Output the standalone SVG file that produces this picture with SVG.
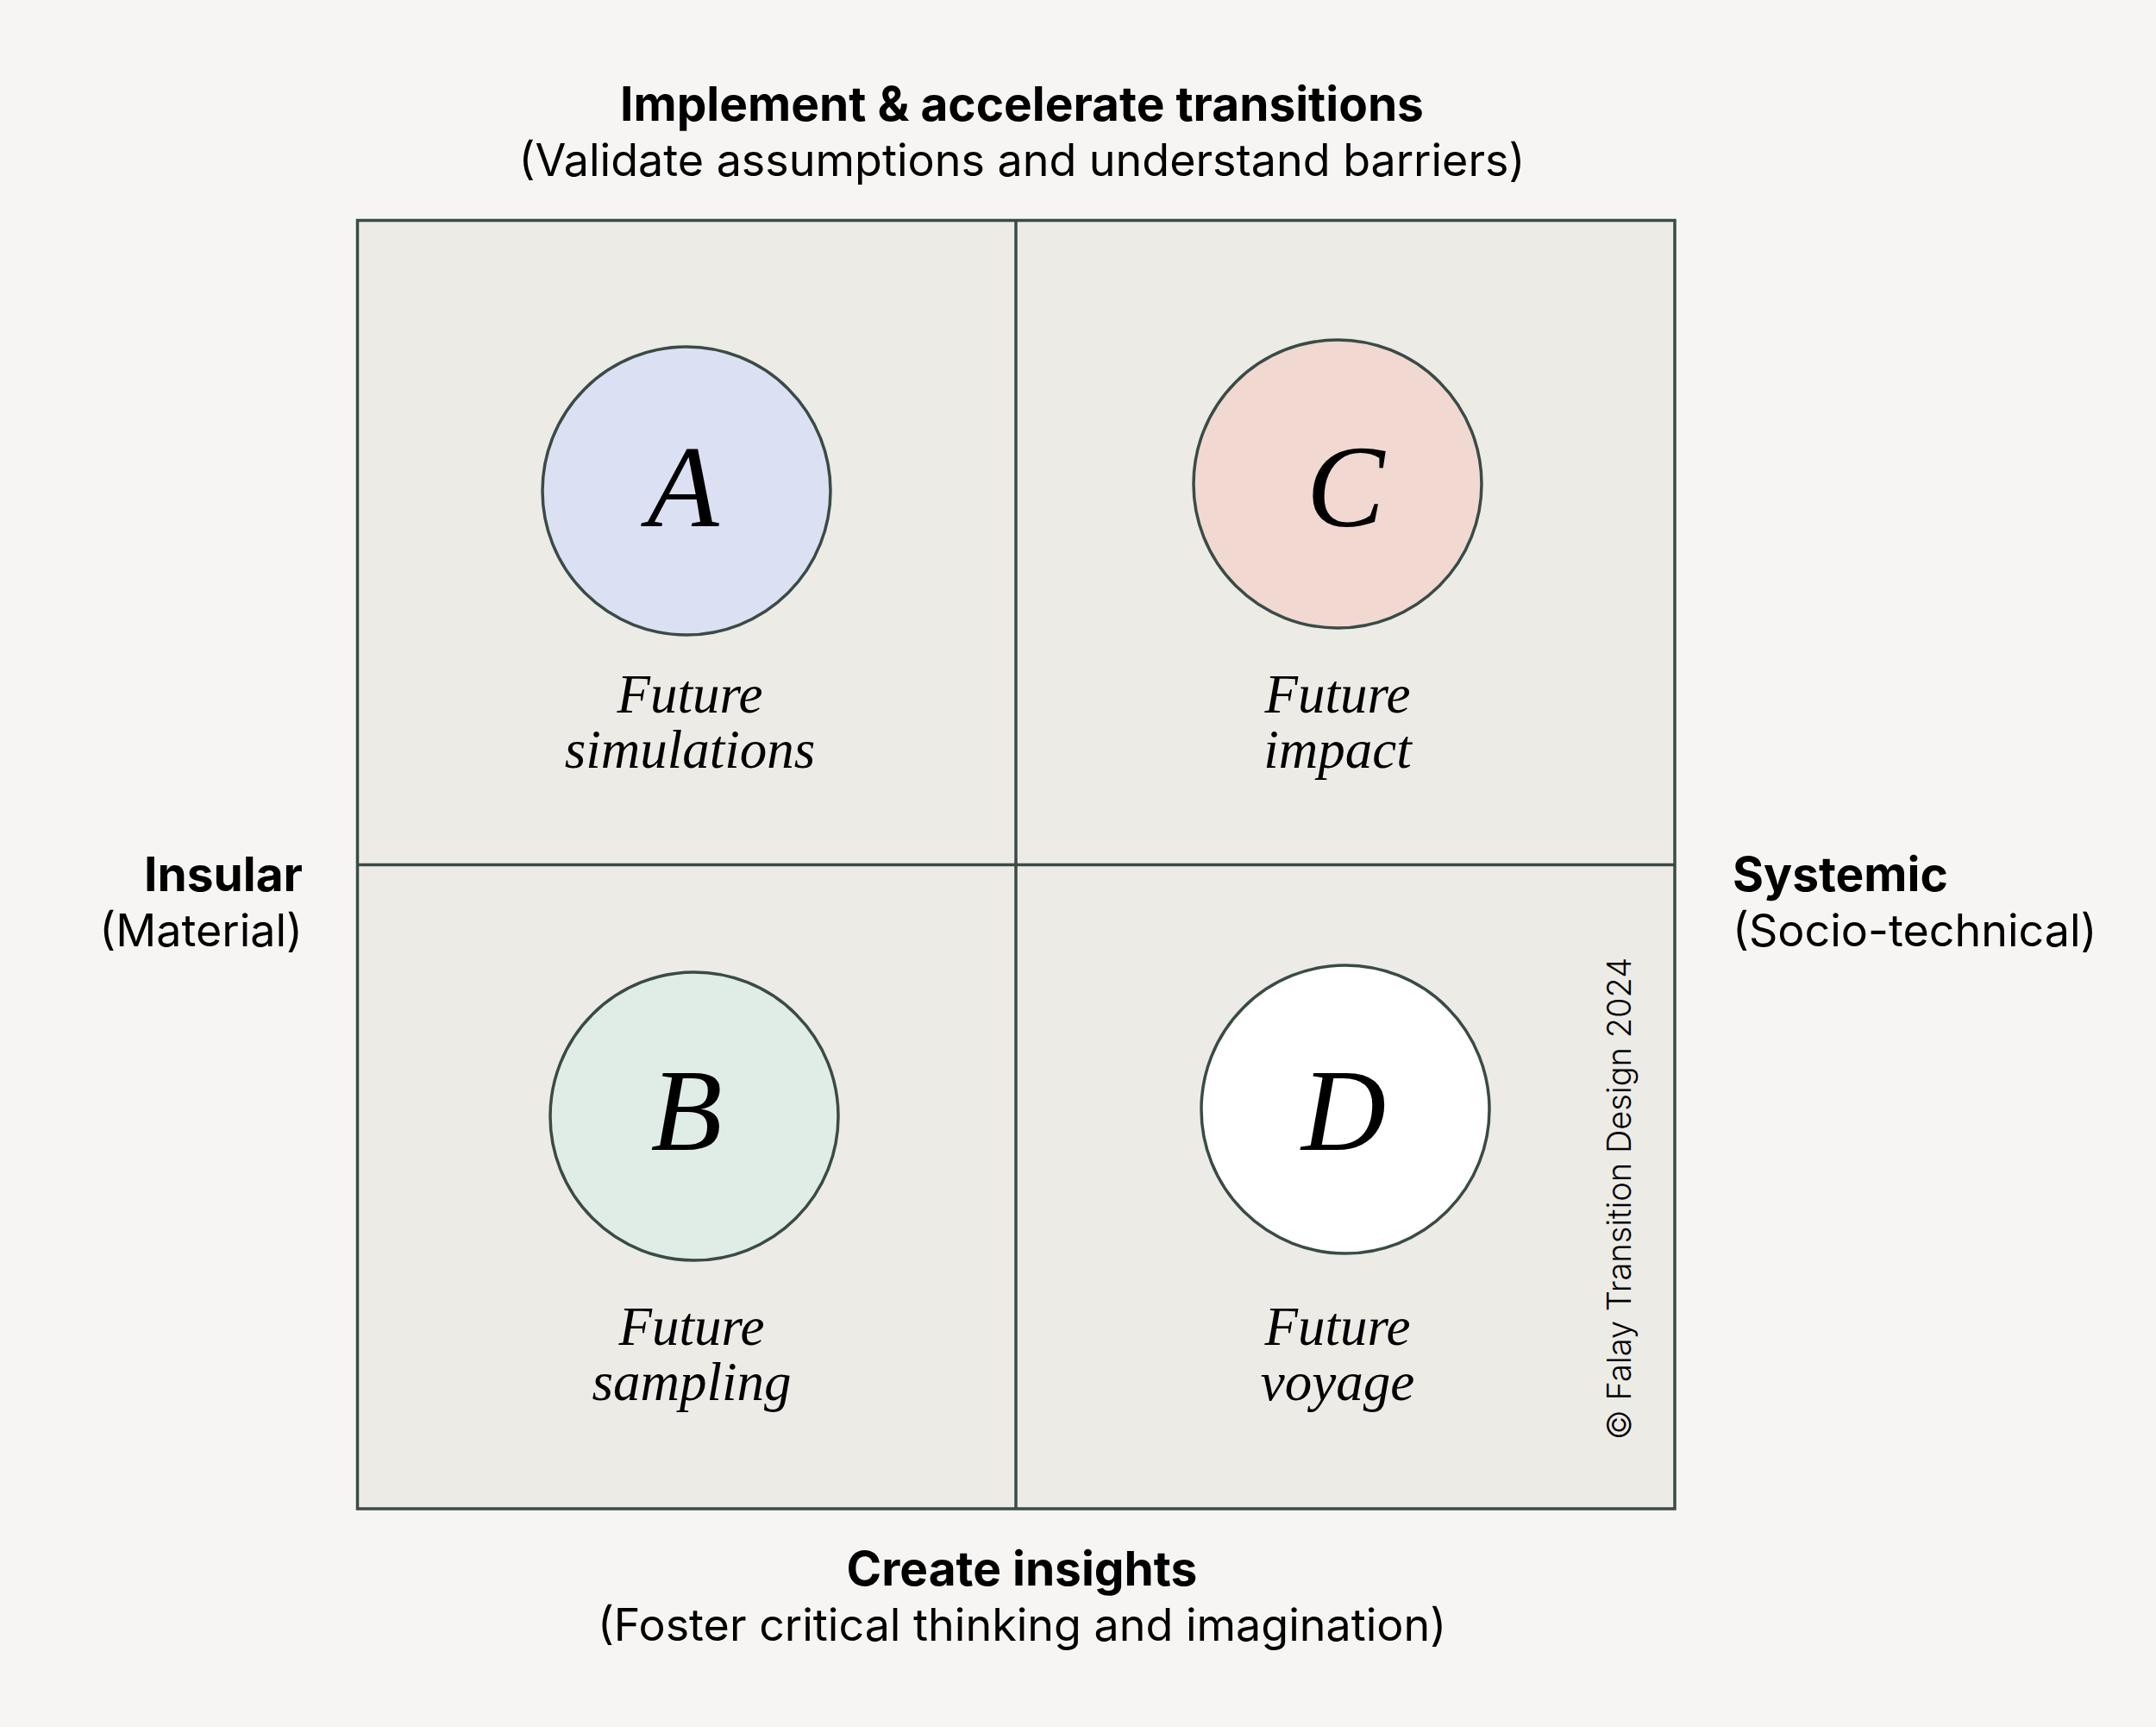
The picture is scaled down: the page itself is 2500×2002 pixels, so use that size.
<svg xmlns="http://www.w3.org/2000/svg" width="2500" height="2002" viewBox="0 0 2500 2002">
<style>
.bg{fill:#f6f5f3}
.quad{fill:#ecebe6;stroke:#3a4b46;stroke-width:3.5}
.line{stroke:#3a4b46;stroke-width:3.5;fill:none}
.circ{stroke:#3a4b46;stroke-width:3.5}
.letter{font-family:"Liberation Serif","DejaVu Serif",serif;font-style:italic;font-size:136px;fill:#000;text-anchor:middle}
.lab{font-family:"Liberation Serif","DejaVu Serif",serif;font-style:italic;font-size:63px;fill:#000;text-anchor:middle}
.h{font-family:Inter,"Liberation Sans",sans-serif;font-weight:700;font-size:55px;fill:#000}
.s{font-family:Inter,"Liberation Sans",sans-serif;font-weight:400;font-size:52px;fill:#000}
.c{text-anchor:middle}
.r{text-anchor:end}
.copy{font-family:Inter,"Liberation Sans",sans-serif;font-weight:300;font-size:38px;fill:#000}
</style>
<rect class="bg" x="0" y="0" width="2500" height="2002"/>
<g id="grid">
<rect class="quad" x="414.5" y="255.5" width="1527.5" height="1493.5"/>
</g>
<g id="connectors">
<line class="line" x1="1178" y1="255.5" x2="1178" y2="1749"/>
<line class="line" x1="414.5" y1="1002.5" x2="1942" y2="1002.5"/>
</g>
<g id="nodeA">
<circle class="circ" cx="796" cy="569" r="167" fill="#dbe1f3"/>
<text class="letter" x="792" y="610">A</text>
<text class="lab" x="800" y="826">Future</text>
<text class="lab" x="800" y="890">simulations</text>
</g>
<g id="nodeC">
<circle class="circ" cx="1551" cy="561" r="167" fill="#f1d8d1"/>
<text class="letter" x="1560" y="610">C</text>
<text class="lab" x="1551" y="826">Future</text>
<text class="lab" x="1551" y="890">impact</text>
</g>
<g id="nodeB">
<circle class="circ" cx="805" cy="1294" r="167" fill="#e0ede6"/>
<text class="letter" x="796" y="1333">B</text>
<text class="lab" x="802" y="1559">Future</text>
<text class="lab" x="802" y="1623">sampling</text>
</g>
<g id="nodeD">
<circle class="circ" cx="1560" cy="1286" r="167" fill="#ffffff"/>
<text class="letter" x="1558" y="1333">D</text>
<text class="lab" x="1551" y="1559">Future</text>
<text class="lab" x="1551" y="1623">voyage</text>
</g>
<g id="axis-top">
<text class="h c" x="1185" y="140">Implement &amp; accelerate transitions</text>
<text class="s c" x="1185" y="204">(Validate assumptions and understand barriers)</text>
</g>
<g id="axis-bottom">
<text class="h c" x="1185" y="1838">Create insights</text>
<text class="s c" x="1185" y="1902">(Foster critical thinking and imagination)</text>
</g>
<g id="axis-left">
<text class="h r" x="351" y="1033">Insular</text>
<text class="s r" x="351" y="1097">(Material)</text>
</g>
<g id="axis-right">
<text class="h" x="2009" y="1033">Systemic</text>
<text class="s" x="2009" y="1097">(Socio-technical)</text>
</g>
<g id="copyright">
<text class="copy" transform="translate(1891,1669) rotate(-90)" x="0" y="0">© Falay Transition Design 2024</text>
</g>
</svg>
